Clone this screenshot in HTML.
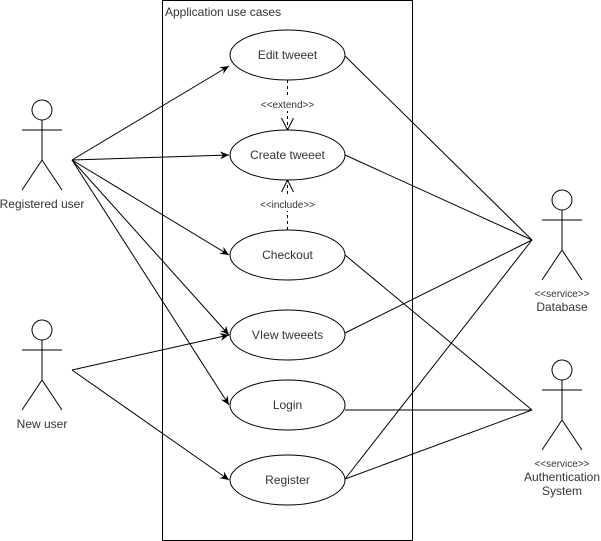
<!DOCTYPE html>
<html><head><style>body{margin:0;background:#fff}svg{display:block}text{font-family:"Liberation Sans",sans-serif;fill:#333}</style></head>
<body>
<svg width="601" height="541" viewBox="0 0 601 541" xmlns="http://www.w3.org/2000/svg">
<defs>
<marker id="a" markerWidth="10" markerHeight="10" refX="9" refY="5" orient="auto" markerUnits="userSpaceOnUse"><path d="M0,1 L9,5 L0,9 L3,5 Z" fill="#000"/></marker>
<marker id="o" markerWidth="14" markerHeight="14" refX="13" refY="7" orient="auto" markerUnits="userSpaceOnUse"><path d="M1,1 L13,7 L1,13" fill="none" stroke="#000"/></marker>
</defs>
<rect x="162.5" y="0.5" width="250" height="540" fill="#fff" stroke="#000"/>
<text x="165" y="16" font-size="12">Application use cases</text>
<g stroke="#000" fill="none">
<line x1="72" y1="160" x2="229" y2="66" marker-end="url(#a)"/>
<line x1="72" y1="160" x2="229" y2="155" marker-end="url(#a)"/>
<line x1="72" y1="160" x2="229" y2="255" marker-end="url(#a)"/>
<line x1="72" y1="160" x2="229" y2="335" marker-end="url(#a)"/>
<line x1="72" y1="160" x2="229" y2="405" marker-end="url(#a)"/>
<line x1="72" y1="370" x2="229" y2="335" marker-end="url(#a)"/>
<line x1="72" y1="370" x2="229" y2="480" marker-end="url(#a)"/>
<line x1="345" y1="56" x2="532" y2="240"/>
<line x1="345" y1="155" x2="532" y2="240"/>
<line x1="345" y1="333" x2="532" y2="240"/>
<line x1="345" y1="479" x2="532" y2="240"/>
<line x1="345" y1="255" x2="532" y2="410"/>
<line x1="345" y1="410" x2="532" y2="410"/>
<line x1="345" y1="479" x2="532" y2="410"/>
<line x1="287.5" y1="80" x2="287.5" y2="130" stroke-dasharray="3,3" marker-end="url(#o)"/>
<line x1="287.5" y1="230" x2="287.5" y2="180" stroke-dasharray="3,3" marker-end="url(#o)"/>
</g>
<rect x="254" y="97" width="67" height="14" fill="#fff"/>
<text x="287.5" y="108" font-size="10" text-anchor="middle">&lt;&lt;extend&gt;&gt;</text>
<rect x="254" y="197" width="67" height="14" fill="#fff"/>
<text x="287.5" y="208" font-size="10" text-anchor="middle">&lt;&lt;include&gt;&gt;</text>
<g stroke="#000" fill="#fff">
<ellipse cx="287.5" cy="55" rx="57.5" ry="25"/>
<ellipse cx="287.5" cy="155" rx="57.5" ry="25"/>
<ellipse cx="287.5" cy="255" rx="57.5" ry="25"/>
<ellipse cx="287.5" cy="335" rx="57.5" ry="25"/>
<ellipse cx="287.5" cy="405" rx="57.5" ry="25"/>
<ellipse cx="287.5" cy="480" rx="57.5" ry="25"/>
</g>
<g font-size="12" text-anchor="middle">
<text x="287.5" y="59">Edit tweeet</text>
<text x="287.5" y="159">Create tweeet</text>
<text x="287.5" y="259">Checkout</text>
<text x="287.5" y="339">VIew tweeets</text>
<text x="287.5" y="409">Login</text>
<text x="287.5" y="484">Register</text>
</g>
<g stroke="#000" fill="#fff">
<circle cx="42" cy="110" r="10"/><path d="M42,120 V160 M22,130 H62 M22,190 L42,160 L62,190" fill="none"/>
<circle cx="42" cy="330" r="10"/><path d="M42,340 V380 M22,350 H62 M22,410 L42,380 L62,410" fill="none"/>
<circle cx="562" cy="200" r="10"/><path d="M562,210 V250 M542,220 H582 M542,280 L562,250 L582,280" fill="none"/>
<circle cx="562" cy="370" r="10"/><path d="M562,380 V420 M542,390 H582 M542,450 L562,420 L582,450" fill="none"/>
</g>
<g font-size="12" text-anchor="middle">
<text x="42" y="208">Registered user</text>
<text x="42" y="428">New user</text>
<text x="562" y="297" font-size="10">&lt;&lt;service&gt;&gt;</text>
<text x="562" y="311">Database</text>
<text x="562" y="467" font-size="10">&lt;&lt;service&gt;&gt;</text>
<text x="562" y="481">Authentication</text>
<text x="562" y="495">System</text>
</g>
</svg>
</body></html>
